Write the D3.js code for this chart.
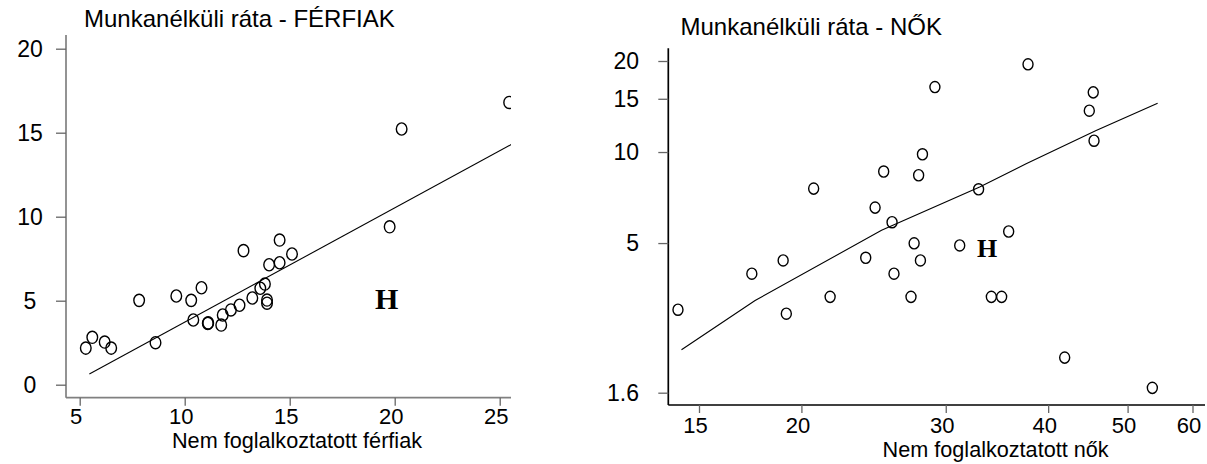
<!DOCTYPE html>
<html>
<head>
<meta charset="utf-8">
<script src="https://cdn.jsdelivr.net/npm/d3@7"></script>
<style>
  body { margin: 0; background: #fff; }
  text { font-family: "Liberation Sans", Arial, sans-serif; fill: #000; }
  .h-mark { font-family: "Liberation Serif", "Times New Roman", serif; font-weight: bold; }
</style>
</head>
<body>
<svg width="1207" height="464"></svg>
<script>
// men panel data
const menX = [5.29, 5.60, 6.19, 6.50, 7.83, 8.61, 9.60, 10.31, 10.41, 10.80, 11.10, 11.12, 11.74, 11.81,
  12.20, 12.61, 12.80, 13.22, 13.60, 13.82, 13.92, 13.92, 14.02, 14.52, 14.52, 15.11, 19.76, 20.33, 25.45];
const menY = [2.18, 2.82, 2.54, 2.18, 5.02, 2.50, 5.28, 5.02, 3.85, 5.77, 3.65, 3.68, 3.55, 4.15,
  4.45, 4.73, 7.98, 5.16, 5.74, 5.99, 5.04, 4.85, 7.14, 7.26, 8.61, 7.78, 9.40, 15.22, 16.80];
const menFitX = [5.46, 26.0];
const menFitY = [0.64, 14.6];
const menXTicks = [5, 10, 15, 20, 25];
const menYTicks = [0, 5, 10, 15, 20];
const menHu = [19.62, 5.11];

// women panel data (log-log)
const womenX = [37.8, 29.1, 45.4, 44.9, 45.5, 28.1, 25.2, 27.8, 20.7, 32.9, 24.6, 25.8, 35.8,
  17.4, 19.0, 19.17, 21.68, 23.96, 25.94, 27.21, 27.45, 27.94, 31.2, 34.1, 35.1, 14.14, 41.9, 53.6];
const womenY = [19.5, 16.4, 15.75, 13.7, 10.9, 9.83, 8.62, 8.38, 7.57, 7.53, 6.55, 5.86, 5.46,
  3.96, 4.38, 2.92, 3.32, 4.47, 3.96, 3.32, 4.99, 4.38, 4.91, 3.32, 3.32, 3.01, 2.09, 1.66];
const womenFitX = [14.28, 17.56, 25.05, 33.0, 37.6, 45.7, 54.4];
const womenFitY = [2.22, 3.23, 5.51, 7.66, 9.15, 11.75, 14.5];
const womenXTicks = [15, 20, 30, 40, 50, 60];
const womenYTicks = [1.6, 5, 10, 15, 20];
const womenHu = [33.7, 4.82];

const svg = d3.select("svg");

const drawPanel = opts => {
  const { xs, ys, fitX, fitY, xScale, yScale, xTicks, yTicks, hu, frame, axisColor, r, title, xLabel } = opts;
  const g = svg.append("g");

  // clip
  const clipId = "clip-" + title.length;
  svg.append("clipPath").attr("id", clipId)
    .append("rect")
    .attr("x", frame.left).attr("y", 0)
    .attr("width", frame.right - frame.left).attr("height", frame.bottom);

  // axis lines
  g.append("line")
    .attr("x1", frame.left).attr("x2", frame.left)
    .attr("y1", frame.top).attr("y2", frame.bottom)
    .attr("stroke", axisColor).attr("stroke-width", 1.7);
  g.append("line")
    .attr("x1", frame.left).attr("x2", frame.right)
    .attr("y1", frame.bottom).attr("y2", frame.bottom)
    .attr("stroke", axisColor).attr("stroke-width", 1.7);

  // x-axis
  const xAxisG = g.append("g")
    .attr("transform", `translate(0, ${frame.bottom})`)
    .call(d3.axisBottom(xScale).tickValues(xTicks).tickSize(8).tickFormat(d => d));
  xAxisG.select(".domain").remove();
  xAxisG.selectAll(".tick line").attr("stroke", "#666").attr("stroke-width", 1.3);
  xAxisG.selectAll(".tick text")
    .attr("y", frame.xLabelOffset).attr("dy", 0).attr("x", -4)
    .style("font-size", "22px");

  // y-axis
  const yAxisG = g.append("g")
    .attr("transform", `translate(${frame.left}, 0)`)
    .call(d3.axisLeft(yScale).tickValues(yTicks).tickSize(10).tickFormat(d => d));
  yAxisG.select(".domain").remove();
  yAxisG.selectAll(".tick line").attr("stroke", "#666").attr("stroke-width", 1.3);
  yAxisG.selectAll(".tick text")
    .attr("x", frame.yLabelX - frame.left)
    .attr("text-anchor", frame.yLabelAnchor)
    .style("font-size", "23px");

  // fit line
  const fit = fitX.map((x, i) => [x, fitY[i]]);
  g.append("path")
    .attr("clip-path", `url(#${clipId})`)
    .attr("d", d3.line().x(d => xScale(d[0])).y(d => yScale(d[1]))(fit))
    .attr("fill", "none").attr("stroke", "#000").attr("stroke-width", 1.1);

  // points
  g.append("g").attr("clip-path", `url(#${clipId})`)
    .selectAll("ellipse")
    .data(xs.map((x, i) => [x, ys[i]]))
    .join("ellipse")
    .attr("cx", d => xScale(d[0]))
    .attr("cy", d => yScale(d[1]))
    .attr("rx", r[0]).attr("ry", r[1])
    .attr("fill", "none").attr("stroke", "#000").attr("stroke-width", 1.4);

  // Hungary marker
  g.append("text")
    .attr("class", "h-mark")
    .attr("x", xScale(hu[0]))
    .attr("y", yScale(hu[1]))
    .attr("dy", "0.35em")
    .attr("text-anchor", "middle")
    .style("font-size", hu[2] + "px")
    .text("H");

  // title
  g.append("text")
    .attr("x", frame.titleX).attr("y", frame.titleY)
    .style("font-size", "24px")
    .text(title);

  // x label (narrow, as in the original)
  g.append("text")
    .attr("x", frame.xTitleX).attr("y", frame.xTitleY)
    .attr("textLength", frame.xTitleW)
    .attr("lengthAdjust", "spacingAndGlyphs")
    .style("font-size", "22px")
    .text(xLabel);
};

drawPanel({
  xs: menX, ys: menY, fitX: menFitX, fitY: menFitY,
  xScale: d3.scaleLinear().domain([5, 25]).range([79.7, 499.7]),
  yScale: d3.scaleLinear().domain([0, 20]).range([384.7, 48.7]),
  xTicks: menXTicks, yTicks: menYTicks,
  hu: [...menHu, 30],
  frame: { left: 66, right: 511, top: 35, bottom: 397.7, xLabelOffset: 26, yLabelX: 30, yLabelAnchor: "middle",
    titleX: 84, titleY: 27, xTitleX: 172, xTitleY: 448, xTitleW: 250 },
  axisColor: "#808080", r: [5.3, 6.1],
  title: "Munkanélküli ráta - FÉRFIAK",
  xLabel: "Nem foglalkoztatott férfiak"
});

drawPanel({
  xs: womenX, ys: womenY, fitX: womenFitX, fitY: womenFitY,
  xScale: d3.scaleLog().domain([15, 60]).range([699, 1192.5]),
  yScale: d3.scaleLog().domain([1.6, 20]).range([392.7, 61]),
  xTicks: womenXTicks, yTicks: womenYTicks,
  hu: [...womenHu, 26],
  frame: { left: 668.3, right: 1205, top: 48.3, bottom: 405, xLabelOffset: 28, yLabelX: 639, yLabelAnchor: "end",
    titleX: 680.5, titleY: 35, xTitleX: 882.6, xTitleY: 457, xTitleW: 226 },
  axisColor: "#000", r: [5, 5.6],
  title: "Munkanélküli ráta - NŐK",
  xLabel: "Nem foglalkoztatott nők"
});
</script>
</body>
</html>
